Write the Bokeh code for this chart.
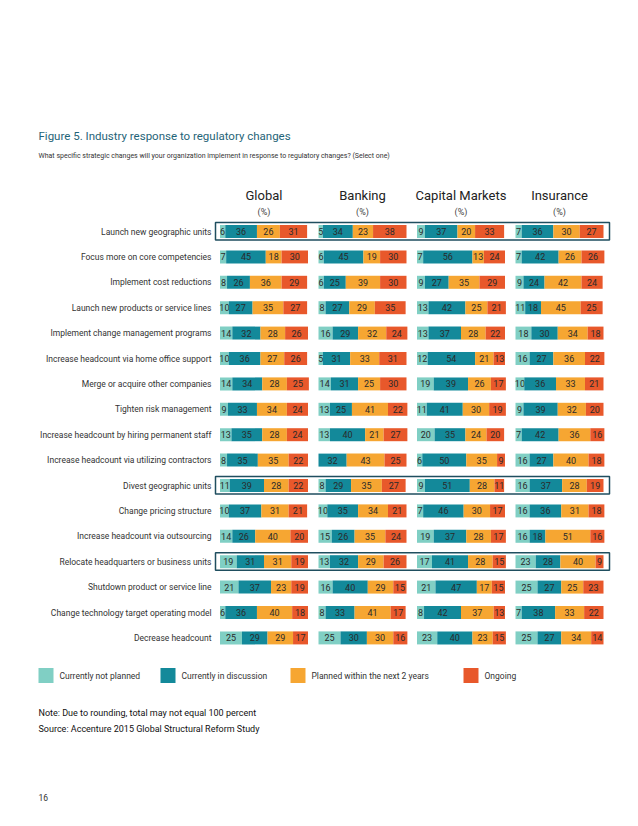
from bokeh.plotting import figure
from bokeh.models import Range1d
from bokeh.embed import file_html
from bokeh.resources import INLINE
from bokeh.core.properties import value

title = "Figure 5. Industry response to regulatory changes"
subtitle = "What specific strategic changes will your organization implement in response to regulatory changes? (Select one)"

categories = [
    "Launch new geographic units",
    "Focus more on core competencies",
    "Implement cost reductions",
    "Launch new products or service lines",
    "Implement change management programs",
    "Increase headcount via home office support",
    "Merge or acquire other companies",
    "Tighten risk management",
    "Increase headcount by hiring permanent staff",
    "Increase headcount via utilizing contractors",
    "Divest geographic units",
    "Change pricing structure",
    "Increase headcount via outsourcing",
    "Relocate headquarters or business units",
    "Shutdown product or service line",
    "Change technology target operating model",
    "Decrease headcount",
]

panels = ["Global", "Banking", "Capital Markets", "Insurance"]

global_vals = [
    (6, 36, 26, 31), (7, 45, 18, 30), (8, 26, 36, 29), (10, 27, 35, 27),
    (14, 32, 28, 26), (10, 36, 27, 26), (14, 34, 28, 25), (9, 33, 34, 24),
    (13, 35, 28, 24), (8, 35, 35, 22), (11, 39, 28, 22), (10, 37, 31, 21),
    (14, 26, 40, 20), (19, 31, 31, 19), (21, 37, 23, 19), (6, 36, 40, 18),
    (25, 29, 29, 17),
]
banking_vals = [
    (5, 34, 23, 38), (6, 45, 19, 30), (6, 25, 39, 30), (8, 27, 29, 35),
    (16, 29, 32, 24), (5, 31, 33, 31), (14, 31, 25, 30), (13, 25, 41, 22),
    (13, 40, 21, 27), (0, 32, 43, 25), (8, 29, 35, 27), (10, 35, 34, 21),
    (15, 26, 35, 24), (13, 32, 29, 26), (16, 40, 29, 15), (8, 33, 41, 17),
    (25, 30, 30, 16),
]
capital_vals = [
    (9, 37, 20, 33), (7, 56, 13, 24), (9, 27, 35, 29), (13, 42, 25, 21),
    (13, 37, 28, 22), (12, 54, 21, 13), (19, 39, 26, 17), (11, 41, 30, 19),
    (20, 35, 24, 20), (6, 50, 35, 9), (9, 51, 28, 11), (7, 46, 30, 17),
    (19, 37, 28, 17), (17, 41, 28, 15), (21, 47, 17, 15), (8, 42, 37, 13),
    (23, 40, 23, 15),
]
insurance_vals = [
    (7, 36, 30, 27), (7, 42, 26, 26), (9, 24, 42, 24), (11, 18, 45, 25),
    (18, 30, 34, 18), (16, 27, 36, 22), (10, 36, 33, 21), (9, 39, 32, 20),
    (7, 42, 36, 16), (16, 27, 40, 18), (16, 37, 28, 19), (16, 36, 31, 18),
    (16, 18, 51, 16), (23, 28, 40, 9), (25, 27, 25, 23), (7, 38, 33, 22),
    (25, 27, 34, 14),
]

series_names = ["Currently not planned", "Currently in discussion",
                "Planned within the next 2 years", "Ongoing"]
colors = ["#80cfc4", "#13899a", "#f6a632", "#e8582b"]

boxed_rows = ["Launch new geographic units", "Divest geographic units",
              "Relocate headquarters or business units"]

note_lines = ["Note: Due to rounding, total may not equal 100 percent",
              "Source: Accenture 2015 Global Structural Reform Study"]
page_number = "16"

# ---------------- layout ----------------
W, H = 630, 818
FONT = value("Roboto")
p = figure(width=W, height=H, output_backend="svg", toolbar_location=None,
           x_range=Range1d(0, W), y_range=Range1d(H, 0), min_border=0)
p.axis.visible = False
p.grid.visible = False
p.outline_line_color = None

row0 = 231.0
row_step = 25.4
bar_h = 13.0
scale = 0.88
panel_x0 = [219.5 + i * 98.5 for i in range(4)]
panel_data = [global_vals, banking_vals, capital_vals, insurance_vals]

# titles
p.text(x=[38], y=[135], text=[title], text_font=FONT, text_font_size="11.5px",
       text_color="#1f6478", text_baseline="middle")
p.text(x=[38], y=[155], text=[subtitle], text_font=FONT, text_font_size="7px",
       text_color="#333333", text_baseline="middle")

# category labels
rows_y = [row0 + i * row_step for i in range(len(categories))]
p.text(x=[211] * len(categories), y=rows_y, text=categories, text_font=FONT,
       text_font_size="8.5px", text_color="#333333", text_align="right",
       text_baseline="middle")

# boxes
box_y = [rows_y[categories.index(c)] for c in boxed_rows]
p.quad(left=[215] * len(box_y), right=[609] * len(box_y),
       top=[y - 9 for y in box_y], bottom=[y + 8.5 for y in box_y],
       fill_alpha=0, line_color="#1f4e5f", line_width=1.5)

# bars
for pi, (pname, data) in enumerate(zip(panels, panel_data)):
    x0 = panel_x0[pi]
    cx = x0 + 50 * scale
    p.text(x=[cx], y=[195], text=[pname], text_font=FONT, text_font_size="13px",
           text_color="#222222", text_align="center", text_baseline="middle")
    p.text(x=[cx], y=[211], text=["(%)"], text_font=FONT, text_font_size="9px",
           text_color="#444444", text_align="center", text_baseline="middle")
    for si in range(4):
        lefts, rights, tops, bots, tx, ty, tt = [], [], [], [], [], [], []
        for ri, vals in enumerate(data):
            cum = sum(vals[:si])
            v = vals[si]
            y = rows_y[ri]
            l = x0 + cum * scale
            r = l + v * scale
            lefts.append(l); rights.append(r)
            tops.append(y - bar_h / 2); bots.append(y + bar_h / 2)
            if v > 0:
                tx.append((l + r) / 2); ty.append(y); tt.append(str(v))
        p.quad(left=lefts, right=rights, top=tops, bottom=bots,
               fill_color=colors[si], line_color=None)
        p.text(x=tx, y=ty, text=tt, text_font=FONT, text_font_size="9px",
               text_color="#2a2a2a", text_align="center", text_baseline="middle")

# legend
leg_x = [38, 160, 290, 463]
leg_y = 675
p.quad(left=leg_x, right=[x + 15 for x in leg_x], top=[leg_y - 7.5] * 4,
       bottom=[leg_y + 7.5] * 4, fill_color=colors, line_color=None)
p.text(x=[x + 21 for x in leg_x], y=[leg_y] * 4, text=series_names, text_font=FONT,
       text_font_size="8.5px", text_color="#333333", text_baseline="middle")

# notes
p.text(x=[38, 38], y=[712, 728], text=note_lines, text_font=FONT,
       text_font_size="9px", text_color="#111111", text_baseline="middle")
p.text(x=[38], y=[797], text=[page_number], text_font=FONT,
       text_font_size="8.5px", text_color="#333333", text_baseline="middle")

open("out.html", "w").write(file_html(p, INLINE))
